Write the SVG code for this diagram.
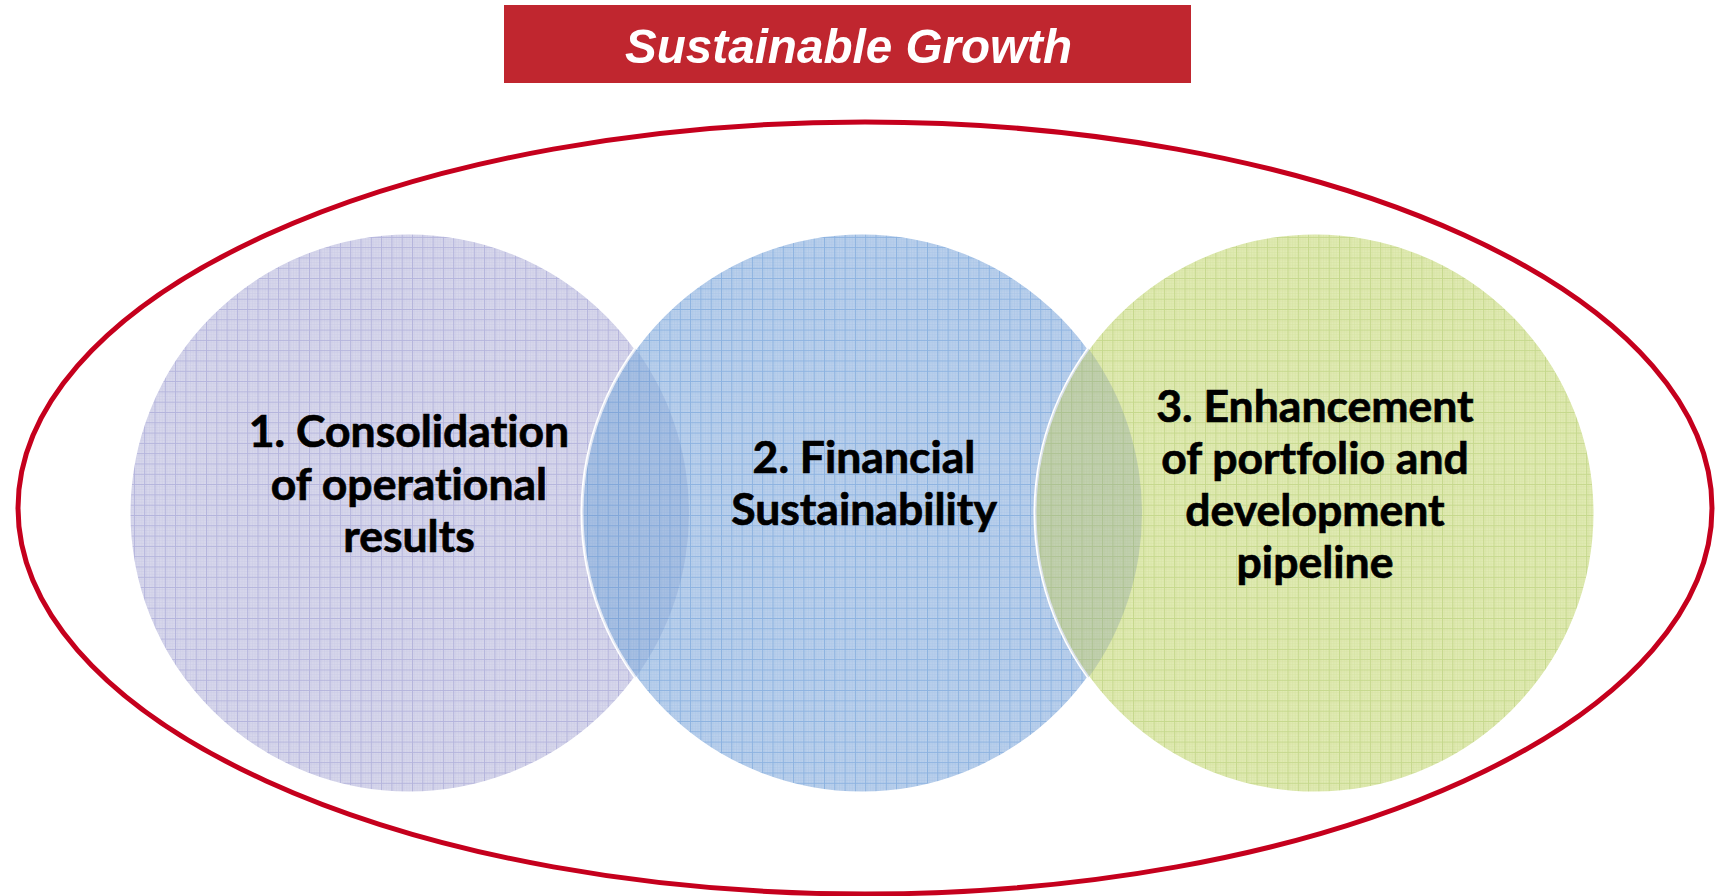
<svg xmlns="http://www.w3.org/2000/svg" width="1716" height="896" viewBox="0 0 1716 896">
  <defs>
    <style>
      .title { font-family: "Liberation Sans", Arial, sans-serif; font-weight: bold; font-style: italic; font-size: 49px; fill: #ffffff; }
      .label { font-family: Lato, "Open Sans", sans-serif; font-weight: bold; font-size: 44.5px; fill: #000000; stroke: #000000; stroke-width: 0.7; text-anchor: middle; font-variant-ligatures: none; font-feature-settings: "liga" 0; }
      .disc { stroke: #ffffff; stroke-width: 3; }
    </style>
    <!-- graph-paper fills: fine stipple plus a 10.3px grid -->
    <pattern id="gridLav" patternUnits="userSpaceOnUse" width="10.3" height="10.3">
      <rect width="10.3" height="10.3" fill="#d8d8ec"/>
      <path d="M0 2.6H10.3M0 5.15H10.3M0 7.7H10.3M2.6 0V10.3M5.15 0V10.3M7.7 0V10.3" stroke="#cbcbe6" stroke-width="0.6"/>
      <path d="M0 0.5H10.3M0.5 0V10.3" stroke="#b4b4dc" stroke-width="1"/>
    </pattern>
    <pattern id="gridBlue" patternUnits="userSpaceOnUse" width="10.3" height="10.3">
      <rect width="10.3" height="10.3" fill="#bbd1ec"/>
      <path d="M0 2.6H10.3M0 5.15H10.3M0 7.7H10.3M2.6 0V10.3M5.15 0V10.3M7.7 0V10.3" stroke="#aac5e8" stroke-width="0.6"/>
      <path d="M0 0.5H10.3M0.5 0V10.3" stroke="#8cb2e0" stroke-width="1"/>
    </pattern>
    <pattern id="gridGreen" patternUnits="userSpaceOnUse" width="10.3" height="10.3">
      <rect width="10.3" height="10.3" fill="#e1ebb4"/>
      <path d="M0 2.6H10.3M0 5.15H10.3M0 7.7H10.3M2.6 0V10.3M5.15 0V10.3M7.7 0V10.3" stroke="#d6e3a2" stroke-width="0.6"/>
      <path d="M0 0.5H10.3M0.5 0V10.3" stroke="#c5d88c" stroke-width="1"/>
    </pattern>
  </defs>

  <rect width="1716" height="896" fill="#ffffff"/>

  <!-- banner -->
  <g id="title">
    <rect x="504" y="5" width="687" height="78" fill="#c0262f"/>
    <text class="title" x="625" y="63" textLength="447" lengthAdjust="spacingAndGlyphs">Sustainable Growth</text>
  </g>

  <!-- enclosing ring -->
  <g id="frame">
    <ellipse cx="865" cy="508" rx="847" ry="386" fill="none" stroke="#c5001d" stroke-width="5"/>
  </g>

  <g id="node1">
    <circle class="disc" cx="409" cy="513" r="280" fill="url(#gridLav)"/>
  </g>
  <g id="node2">
    <circle class="disc" cx="862" cy="513" r="280" fill="url(#gridBlue)"/>
    <!-- overlap with circle 1 -->
    <path d="M635.5 348.4A280 280 0 0 1 635.5 677.6A280 280 0 0 1 635.5 348.4Z" fill="#4f72b8" fill-opacity="0.17"/>
  </g>
  <g id="node3">
    <circle class="disc" cx="1315" cy="513" r="280" fill="url(#gridGreen)"/>
    <!-- overlap with circle 2 -->
    <path d="M1088.5 348.4A280 280 0 0 1 1088.5 677.6A280 280 0 0 1 1088.5 348.4Z" fill="#5f7fa3" fill-opacity="0.24"/>
  </g>

  <g id="labels">
    <text class="label" x="409" y="447">1. Consolidation</text>
    <text class="label" x="409" y="500">of operational</text>
    <text class="label" x="409" y="552">results</text>

    <text class="label" x="864" y="473">2. Financial</text>
    <text class="label" x="864" y="525">Sustainability</text>

    <text class="label" x="1315" y="422">3. Enhancement</text>
    <text class="label" x="1315" y="474">of portfolio and</text>
    <text class="label" x="1315" y="526">development</text>
    <text class="label" x="1315" y="578">pipeline</text>
  </g>

  <!-- no connectors in this figure -->
  <g id="connectors"/>
</svg>
